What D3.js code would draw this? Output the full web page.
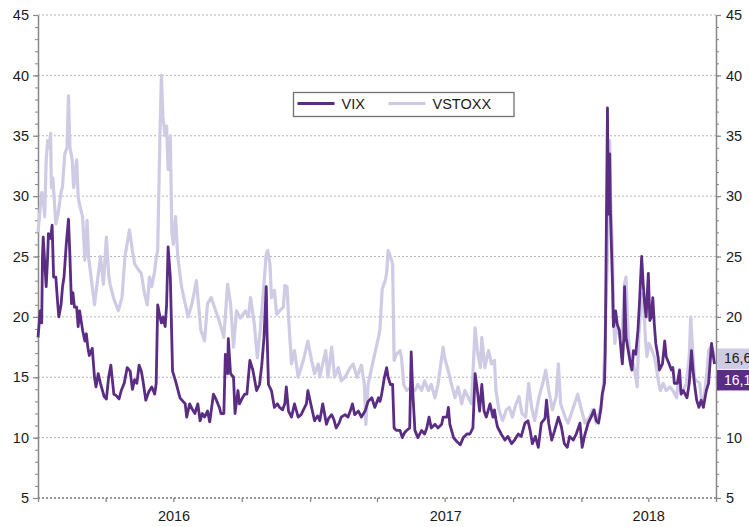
<!DOCTYPE html>
<html>
<head>
<meta charset="utf-8">
<script src="https://cdn.jsdelivr.net/npm/d3@7"></script>
<style>
  body { margin: 0; background: #fff; }
  svg { display: block; font-family: "Liberation Sans", Arial, sans-serif; }
</style>
</head>
<body>
<div id="chart"></div>
<script>
// VIX (one line per month)
var vixDates = [
  "2016-01-01","2016-01-04","2016-01-06","2016-01-07","2016-01-08","2016-01-11","2016-01-12","2016-01-14","2016-01-15","2016-01-18","2016-01-20","2016-01-22","2016-01-25","2016-01-27","2016-01-29",
  "2016-02-01","2016-02-03","2016-02-05","2016-02-08","2016-02-11","2016-02-13","2016-02-15","2016-02-17","2016-02-19","2016-02-22","2016-02-24","2016-02-26",
  "2016-03-01","2016-03-04","2016-03-06","2016-03-08","2016-03-10","2016-03-14","2016-03-17","2016-03-19","2016-03-22","2016-03-25","2016-03-30",
  "2016-04-02","2016-04-05","2016-04-08","2016-04-12","2016-04-15","2016-04-19","2016-04-22","2016-04-26","2016-04-30",
  "2016-05-04","2016-05-07","2016-05-10","2016-05-13","2016-05-16","2016-05-19","2016-05-21","2016-05-25","2016-05-29",
  "2016-06-02","2016-06-06","2016-06-08","2016-06-10","2016-06-13","2016-06-15","2016-06-17","2016-06-20","2016-06-22","2016-06-24","2016-06-27","2016-06-30",
  "2016-07-04","2016-07-07","2016-07-10","2016-07-14","2016-07-17","2016-07-19","2016-07-23","2016-07-27","2016-07-30",
  "2016-08-03","2016-08-06","2016-08-09","2016-08-12","2016-08-16","2016-08-19","2016-08-24","2016-08-28",
  "2016-09-01","2016-09-03","2016-09-07","2016-09-09","2016-09-12","2016-09-13","2016-09-16","2016-09-20","2016-09-22","2016-09-26","2016-09-28",
  "2016-10-02","2016-10-05","2016-10-08","2016-10-12","2016-10-16","2016-10-21","2016-10-25","2016-10-28","2016-10-31",
  "2016-11-03","2016-11-04","2016-11-06","2016-11-10","2016-11-14","2016-11-18","2016-11-21","2016-11-25","2016-11-28","2016-11-30",
  "2016-12-03","2016-12-07","2016-12-11","2016-12-16","2016-12-20","2016-12-23","2016-12-27","2016-12-29",
  "2017-01-03","2017-01-07","2017-01-11","2017-01-14","2017-01-18","2017-01-23","2017-01-26","2017-01-30",
  "2017-02-02","2017-02-05","2017-02-09","2017-02-12","2017-02-17","2017-02-21","2017-02-24","2017-02-27",
  "2017-03-02","2017-03-07","2017-03-11","2017-03-16","2017-03-20","2017-03-25","2017-03-29",
  "2017-04-03","2017-04-05","2017-04-07","2017-04-11","2017-04-14","2017-04-16","2017-04-19","2017-04-22","2017-04-24","2017-04-27",
  "2017-05-02","2017-05-05","2017-05-08","2017-05-11","2017-05-15","2017-05-17","2017-05-19","2017-05-22","2017-05-26","2017-05-31",
  "2017-06-04","2017-06-07","2017-06-10","2017-06-13","2017-06-18","2017-06-22","2017-06-27","2017-06-29",
  "2017-07-04","2017-07-06","2017-07-08","2017-07-13","2017-07-17","2017-07-22","2017-07-26","2017-07-31",
  "2017-08-04","2017-08-08","2017-08-11","2017-08-14","2017-08-17","2017-08-20","2017-08-23","2017-08-26","2017-08-31",
  "2017-09-04","2017-09-06","2017-09-08","2017-09-10","2017-09-15","2017-09-20","2017-09-24","2017-09-29",
  "2017-10-03","2017-10-08","2017-10-12","2017-10-17","2017-10-21","2017-10-24","2017-10-27","2017-10-31",
  "2017-11-04","2017-11-08","2017-11-13","2017-11-15","2017-11-18","2017-11-22","2017-11-26",
  "2017-12-01","2017-12-05","2017-12-09","2017-12-13","2017-12-16","2017-12-21","2017-12-25","2017-12-30",
  "2018-01-02","2018-01-05","2018-01-10","2018-01-14","2018-01-18","2018-01-21","2018-01-24","2018-01-27","2018-01-29",
  "2018-02-01","2018-02-02","2018-02-05","2018-02-06","2018-02-07","2018-02-08","2018-02-09","2018-02-12","2018-02-13","2018-02-16","2018-02-18","2018-02-21","2018-02-24","2018-02-25","2018-02-27","2018-02-28",
  "2018-03-02","2018-03-05","2018-03-08","2018-03-10","2018-03-12","2018-03-15","2018-03-18","2018-03-20","2018-03-23","2018-03-25","2018-03-27","2018-03-29",
  "2018-04-01","2018-04-03","2018-04-05","2018-04-07","2018-04-09","2018-04-11","2018-04-14","2018-04-16","2018-04-20","2018-04-23","2018-04-25","2018-04-29",
  "2018-05-02","2018-05-04","2018-05-06","2018-05-10","2018-05-13","2018-05-15","2018-05-18","2018-05-23","2018-05-26","2018-05-29","2018-05-31",
  "2018-06-02","2018-06-05","2018-06-08","2018-06-11","2018-06-14","2018-06-18","2018-06-21","2018-06-25","2018-06-27","2018-06-29"
];
var vixValues = [
  18.3,20.5,19.5,25.0,26.6,23.5,22.5,25.0,26.9,26.5,27.6,23.3,23.3,21.5,20.0,
  21.0,22.5,23.3,26.0,28.1,24.9,21.1,22.0,20.8,20.8,19.2,20.5,
  18.9,18.0,18.6,17.5,16.8,17.4,15.0,14.2,15.3,14.5,13.4,
  13.2,15.0,16.0,13.6,13.5,13.2,13.9,14.5,15.8,
  15.5,14.0,14.8,14.5,16.0,15.5,14.8,13.1,13.8,
  14.2,13.6,14.5,21.0,20.0,19.5,20.0,19.2,21.0,25.8,23.3,15.5,
  14.7,14.0,13.3,13.0,12.8,11.7,12.8,12.3,12.0,
  12.8,11.4,12.0,11.7,12.2,11.3,13.6,13.1,
  12.5,12.0,12.0,16.9,15.3,18.2,15.3,15.0,12.0,13.9,12.8,
  13.3,13.6,13.6,16.4,15.6,13.9,14.4,16.0,18.3,
  22.5,18.9,14.4,13.9,12.5,12.8,12.5,12.3,12.8,14.2,
  12.2,11.7,12.8,11.7,11.9,12.3,12.8,13.9,
  12.5,11.4,11.8,11.4,12.8,11.1,11.6,11.9,
  11.5,10.8,11.2,11.7,11.9,11.7,12.2,12.8,
  11.9,12.2,11.7,12.2,13.0,13.3,12.5,
  13.3,13.0,13.5,15.0,15.8,15.0,14.4,14.4,10.8,10.6,
  10.6,10.0,10.4,10.6,10.8,17.1,13.9,10.6,10.0,10.6,
  10.3,10.8,11.7,10.8,11.1,10.8,11.1,11.7,
  11.7,12.5,11.1,10.0,9.7,9.4,10.0,10.3,
  10.3,10.8,15.3,13.9,12.2,14.4,12.2,11.7,12.8,
  11.7,12.3,11.5,10.9,10.3,9.8,10.1,9.5,
  9.8,10.3,10.1,11.2,11.4,10.6,9.5,10.1,
  9.2,11.2,11.6,13.1,11.2,9.8,10.6,
  11.7,10.9,9.5,9.2,10.1,9.8,10.3,11.2,
  9.2,10.1,11.2,11.7,12.3,11.4,11.2,12.3,13.6,
  14.5,17.0,37.3,30.3,28.5,33.5,28.8,22.2,19.2,20.5,19.4,18.9,16.7,16.1,18.3,22.5,
  18.3,17.2,16.1,15.6,17.2,16.9,18.9,21.1,25.0,22.8,21.1,20.0,
  23.6,19.7,20.0,21.6,19.4,17.8,16.7,15.6,16.1,18.0,16.7,16.1,
  15.6,15.8,14.5,14.5,15.6,13.6,13.9,13.3,14.5,17.2,15.6,
  14.5,13.1,12.5,13.1,12.5,13.9,14.5,17.8,16.9,16.1
];

// VSTOXX
var vstoxxDates = [
  "2016-01-01","2016-01-04","2016-01-06","2016-01-08","2016-01-10","2016-01-12","2016-01-14","2016-01-16","2016-01-18","2016-01-19","2016-01-21","2016-01-25","2016-01-28",
  "2016-02-01","2016-02-03","2016-02-06","2016-02-09","2016-02-11","2016-02-13","2016-02-16","2016-02-18","2016-02-22","2016-02-24","2016-02-27",
  "2016-03-01","2016-03-04","2016-03-07","2016-03-09","2016-03-13","2016-03-17","2016-03-21","2016-03-25","2016-03-29",
  "2016-04-02","2016-04-05","2016-04-07","2016-04-12","2016-04-18","2016-04-23","2016-04-27",
  "2016-05-03","2016-05-07","2016-05-10","2016-05-14","2016-05-19","2016-05-23","2016-05-27","2016-05-30",
  "2016-06-02","2016-06-06","2016-06-08","2016-06-10","2016-06-13","2016-06-15","2016-06-17","2016-06-20","2016-06-22","2016-06-24","2016-06-27","2016-06-29",
  "2016-07-01","2016-07-04","2016-07-07","2016-07-12","2016-07-17","2016-07-21","2016-07-26","2016-07-29",
  "2016-08-01","2016-08-04","2016-08-07","2016-08-12","2016-08-16","2016-08-21","2016-08-27","2016-08-31",
  "2016-09-02","2016-09-07","2016-09-12","2016-09-16","2016-09-20","2016-09-24","2016-09-29",
  "2016-10-06","2016-10-10","2016-10-13","2016-10-18","2016-10-22","2016-10-26","2016-10-30",
  "2016-11-03","2016-11-05","2016-11-08","2016-11-10","2016-11-14","2016-11-17","2016-11-21","2016-11-26","2016-11-28",
  "2016-12-01","2016-12-03","2016-12-07","2016-12-11","2016-12-16","2016-12-23","2016-12-29",
  "2017-01-03","2017-01-07","2017-01-12","2017-01-14","2017-01-22","2017-01-25","2017-01-30",
  "2017-02-03","2017-02-08","2017-02-12","2017-02-17","2017-02-24","2017-02-28",
  "2017-03-05","2017-03-11","2017-03-15","2017-03-17","2017-03-20","2017-03-27",
  "2017-04-03","2017-04-05","2017-04-08","2017-04-12","2017-04-14","2017-04-16","2017-04-19","2017-04-22","2017-04-24","2017-04-27",
  "2017-05-02","2017-05-04","2017-05-07","2017-05-11","2017-05-17","2017-05-22","2017-05-26","2017-05-31",
  "2017-06-04","2017-06-09","2017-06-13","2017-06-18","2017-06-22","2017-06-29",
  "2017-07-01","2017-07-06","2017-07-09","2017-07-15","2017-07-19","2017-07-24","2017-07-28",
  "2017-08-02","2017-08-06","2017-08-11","2017-08-14","2017-08-18","2017-08-20","2017-08-24","2017-08-29",
  "2017-09-02","2017-09-06","2017-09-08","2017-09-12","2017-09-17","2017-09-22","2017-09-26","2017-09-30",
  "2017-10-05","2017-10-09","2017-10-13","2017-10-18","2017-10-22","2017-10-26","2017-10-30",
  "2017-11-05","2017-11-10","2017-11-14","2017-11-18","2017-11-23","2017-11-28",
  "2017-12-01","2017-12-04","2017-12-10","2017-12-14","2017-12-20","2017-12-27",
  "2018-01-01","2018-01-06","2018-01-12","2018-01-16","2018-01-21","2018-01-27","2018-01-30",
  "2018-02-01","2018-02-05","2018-02-06","2018-02-08","2018-02-09","2018-02-10","2018-02-12","2018-02-13","2018-02-15","2018-02-17","2018-02-19","2018-02-22","2018-02-25","2018-02-28",
  "2018-03-02","2018-03-05","2018-03-07","2018-03-09","2018-03-12","2018-03-15","2018-03-17","2018-03-19","2018-03-21","2018-03-24","2018-03-26","2018-03-28","2018-03-30",
  "2018-04-02","2018-04-06","2018-04-09","2018-04-11","2018-04-15","2018-04-17","2018-04-21","2018-04-25","2018-04-30",
  "2018-05-04","2018-05-09","2018-05-11","2018-05-14","2018-05-18","2018-05-22","2018-05-26","2018-05-28","2018-05-30",
  "2018-06-02","2018-06-05","2018-06-09","2018-06-12","2018-06-15","2018-06-19","2018-06-21","2018-06-24","2018-06-27","2018-06-29"
];
var vstoxxValues = [
  27.0,29.0,30.3,30.0,28.3,33.0,34.6,34.0,35.2,30.7,31.5,27.7,28.5,
  30.3,30.8,33.5,34.0,38.3,34.0,33.0,30.7,33.0,29.9,29.0,
  28.3,24.7,28.0,25.0,23.0,21.0,23.0,25.0,22.7,
  26.6,23.5,22.7,21.5,20.5,21.6,25.0,
  27.2,25.5,24.4,24.0,23.6,22.0,21.0,23.3,
  22.5,23.8,24.9,25.5,35.0,40.0,36.6,35.0,35.8,32.2,35.0,27.0,
  26.0,28.3,25.0,22.5,21.1,20.0,21.1,22.0,
  23.0,21.0,18.9,18.0,21.1,21.6,20.5,19.8,
  19.4,18.3,22.7,21.1,17.5,20.5,19.9,
  20.5,20.0,21.6,19.4,16.6,18.9,22.0,
  25.2,25.5,24.4,21.6,22.2,20.2,20.5,20.8,22.6,
  22.5,20.0,16.1,17.2,15.0,16.4,18.0,
  16.4,15.3,16.1,15.0,17.2,15.0,17.5,
  15.0,15.8,14.7,15.0,15.8,16.1,
  15.0,16.0,14.4,11.1,14.4,16.4,
  18.3,19.0,22.3,23.0,23.6,25.5,25.0,24.4,16.4,16.9,
  17.2,16.6,14.4,13.9,14.2,13.9,14.4,13.9,
  14.7,13.9,14.4,13.3,14.4,17.5,
  16.6,15.5,14.7,13.3,14.2,12.8,13.9,
  13.3,12.8,19.1,17.2,15.8,18.3,15.8,17.2,
  16.1,16.4,13.9,12.3,11.4,12.3,12.5,11.7,
  12.8,13.4,12.0,11.7,14.5,12.5,11.4,
  13.4,14.5,15.6,13.9,12.3,13.4,
  16.1,12.8,11.7,11.2,12.3,13.6,
  12.3,11.2,11.7,12.3,11.2,12.5,13.9,
  16.7,25.0,31.5,34.6,30.5,28.3,25.0,20.0,17.8,20.0,18.9,18.3,18.9,22.8,
  23.3,18.3,17.2,15.6,16.1,15.0,14.2,18.3,20.0,21.9,20.8,18.3,16.7,
  17.8,17.2,16.7,16.1,14.5,13.9,14.5,13.9,14.2,
  13.9,13.3,14.5,13.9,13.9,14.5,16.7,20.0,17.8,
  15.0,14.7,14.5,12.8,13.3,15.6,17.2,17.5,17.2,16.6
];

var yTicks = [5, 10, 15, 20, 25, 30, 35, 40, 45];
var yearLabels = ["2016", "2017", "2018"];
var seriesNames = ["VIX", "VSTOXX"];

if (vixDates.length !== vixValues.length) throw new Error("vix " + vixDates.length + " vs " + vixValues.length);
if (vstoxxDates.length !== vstoxxValues.length) throw new Error("vstoxx " + vstoxxDates.length + " vs " + vstoxxValues.length);

var darkPurple = "#5b2c83";
var lightPurple = "#cfcbe5";

var svgWidth = 749;
var svgHeight = 527;

var svg = d3.select("#chart")
  .append("svg")
  .attr("width", svgWidth)
  .attr("height", svgHeight);

var parseDate = d3.timeParse("%Y-%m-%d");

var vix = vixDates.map((d, i) => ({ date: parseDate(d), value: vixValues[i] }));
var vstoxx = vstoxxDates.map((d, i) => ({ date: parseDate(d), value: vstoxxValues[i] }));

var xScale = d3.scaleTime()
  .domain([new Date(2016, 0, 1), new Date(2018, 6, 1)])
  .range([38, 716]);

var yScale = d3.scaleLinear()
  .domain([5, 45])
  .range([498, 15]);

// dotted gridlines (the one at 5 doubles as the x axis)
svg.append("g").selectAll("line")
  .data(yTicks)
  .enter()
  .append("line")
  .attr("x1", xScale.range()[0])
  .attr("x2", xScale.range()[1])
  .attr("y1", d => yScale(d))
  .attr("y2", d => yScale(d))
  .attr("stroke", d => d === 5 ? "#999" : "#b5b5b5")
  .attr("stroke-width", d => d === 5 ? 2 : 1)
  .attr("stroke-dasharray", "2,2");

// x axis ticks, quarterly
var xAxis = svg.append("g")
  .attr("transform", `translate(0, ${yScale(5)})`)
  .call(d3.axisBottom(xScale).ticks(d3.timeMonth.every(3)).tickSize(4).tickFormat(""));
xAxis.select(".domain").remove();
xAxis.selectAll("line").attr("stroke", "#888").attr("stroke-width", 1.3);

// year labels centred in each year
svg.append("g").selectAll("text")
  .data(yearLabels)
  .enter()
  .append("text")
  .attr("x", d => {
    var a = new Date(+d, 0, 1);
    var b = d3.min([new Date(+d + 1, 0, 1), xScale.domain()[1]]);
    return (xScale(a) + xScale(b)) / 2;
  })
  .attr("y", 521)
  .attr("text-anchor", "middle")
  .attr("font-size", "14.5px")
  .attr("fill", "#1a1a1a")
  .text(d => d);

// y axes, left and right, with minor ticks
function styleAxis(g) {
  g.select(".domain").attr("stroke", "#888").attr("stroke-width", 1.5);
  g.selectAll(".tick line").attr("stroke", "#888").attr("stroke-width", 1.2);
  g.selectAll(".tick text").attr("font-size", "14.5px").attr("fill", "#1a1a1a")
    .attr("font-family", "Liberation Sans, Arial, sans-serif");
}

var minorTicks = d3.range(5, 46, 1);

var leftMinor = svg.append("g")
  .attr("transform", `translate(${xScale.range()[0]}, 0)`)
  .call(d3.axisLeft(yScale).tickValues(minorTicks).tickSize(3).tickFormat(""));
leftMinor.select(".domain").remove();
leftMinor.selectAll("line").attr("stroke", "#888");

var leftAxis = svg.append("g")
  .attr("transform", `translate(${xScale.range()[0]}, 0)`)
  .call(d3.axisLeft(yScale).tickValues(yTicks).tickSize(5).tickSizeOuter(0).tickPadding(4));
styleAxis(leftAxis);

var rightMinor = svg.append("g")
  .attr("transform", `translate(${xScale.range()[1]}, 0)`)
  .call(d3.axisRight(yScale).tickValues(minorTicks).tickSize(3).tickFormat(""));
rightMinor.select(".domain").remove();
rightMinor.selectAll("line").attr("stroke", "#888");

var rightAxis = svg.append("g")
  .attr("transform", `translate(${xScale.range()[1]}, 0)`)
  .call(d3.axisRight(yScale).tickValues(yTicks).tickSize(5).tickSizeOuter(0).tickPadding(5));
styleAxis(rightAxis);

// lines
var line = d3.line()
  .x(d => xScale(d.date))
  .y(d => yScale(d.value));

svg.append("path")
  .datum(vstoxx)
  .attr("fill", "none")
  .attr("stroke", lightPurple)
  .attr("stroke-width", 3.2)
  .attr("stroke-linejoin", "round")
  .attr("d", line);

svg.append("path")
  .datum(vix)
  .attr("fill", "none")
  .attr("stroke", darkPurple)
  .attr("stroke-width", 2.8)
  .attr("stroke-linejoin", "round")
  .attr("d", line);

// legend
var legend = svg.append("g").attr("transform", "translate(293.5, 92.5)");
legend.append("rect")
  .attr("width", 220.5)
  .attr("height", 24)
  .attr("fill", "#fff")
  .attr("stroke", "#707070")
  .attr("stroke-width", 1.3);

var legendItems = [
  { name: seriesNames[0], color: darkPurple, x: 4, w: 2.8 },
  { name: seriesNames[1], color: lightPurple, x: 95, w: 3.2 }
];
legendItems.forEach(function(item) {
  legend.append("line")
    .attr("x1", item.x).attr("x2", item.x + 37)
    .attr("y1", 11).attr("y2", 11)
    .attr("stroke", item.color)
    .attr("stroke-width", item.w);
  legend.append("text")
    .attr("x", item.x + 44)
    .attr("y", 16.5)
    .attr("font-size", "14.5px")
    .attr("fill", "#1a1a1a")
    .text(item.name);
});

// end-of-series value labels on the right axis
var fmt = v => v.toFixed(1).replace(".", ",");
var lastVstoxx = vstoxx[vstoxx.length - 1].value;
var lastVix = vix[vix.length - 1].value;
var endLabels = [
  { value: lastVstoxx, cy: yScale(lastVstoxx) + 0.5, fill: lightPurple, color: "#1a1a1a" },
  { value: lastVix, cy: yScale(lastVstoxx) + 22, fill: darkPurple, color: "#fff" }
];
endLabels.forEach(function(l) {
  svg.append("rect")
    .attr("x", xScale.range()[1] + 1)
    .attr("y", l.cy - 10)
    .attr("width", 40)
    .attr("height", 20.5)
    .attr("fill", l.fill);
  svg.append("text")
    .attr("x", 724)
    .attr("y", l.cy + 5)
    .attr("font-size", "14px")
    .attr("fill", l.color)
    .text(fmt(l.value));
});
</script>
</body>
</html>
